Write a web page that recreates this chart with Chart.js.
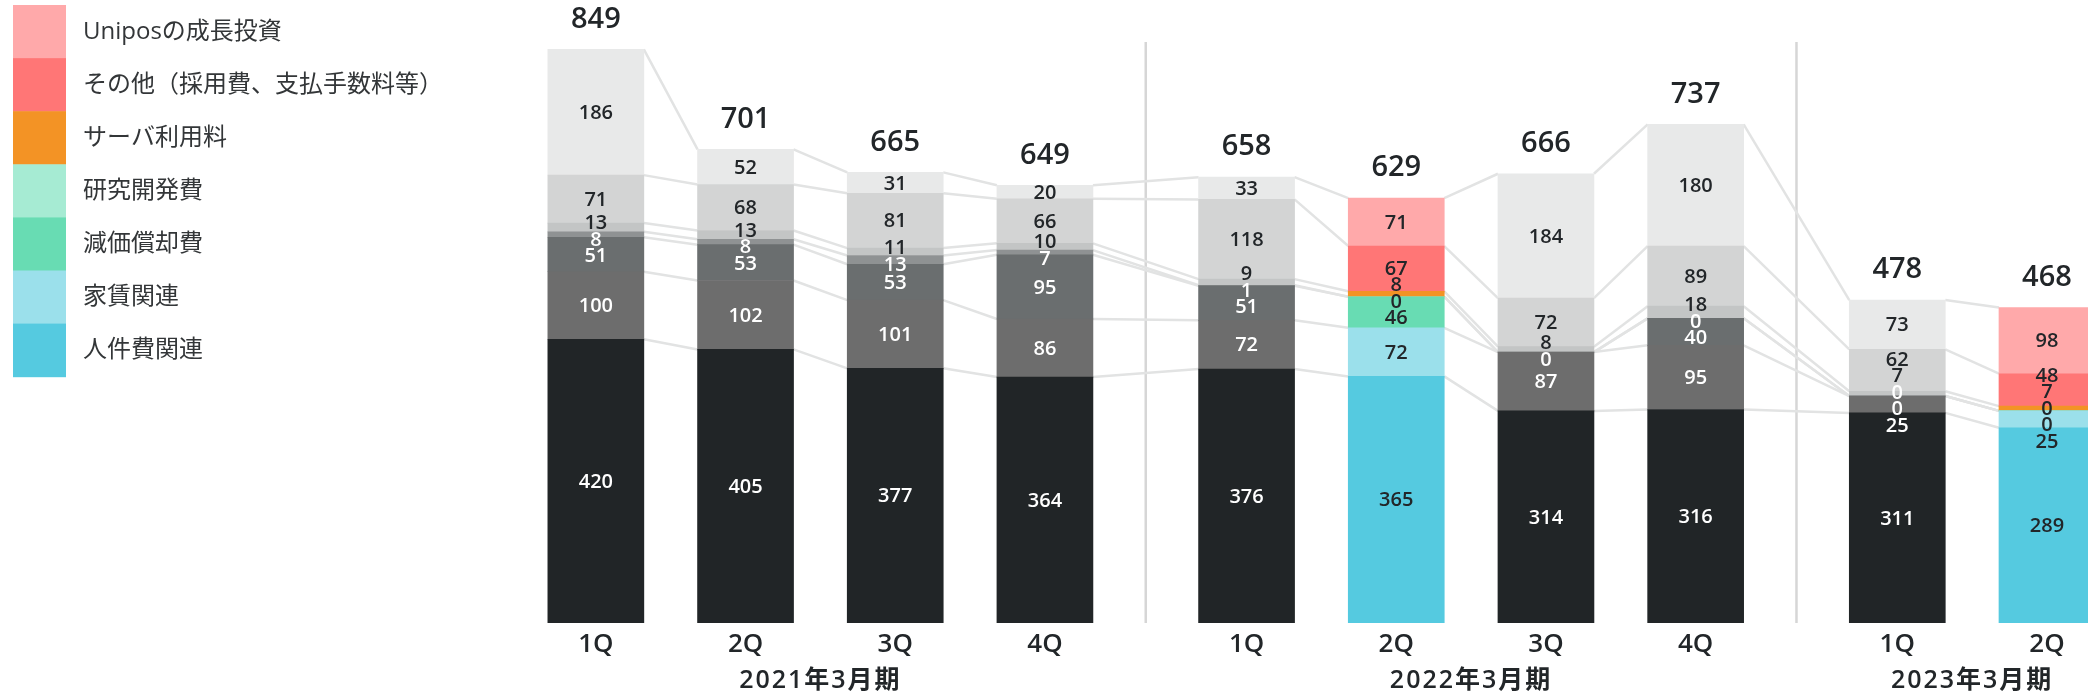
<!DOCTYPE html>
<html><head><meta charset="utf-8">
<script src="https://cdn.jsdelivr.net/npm/chart.js@4.4.1/dist/chart.umd.min.js"></script>
<style>html,body{margin:0;padding:0;background:#fff;overflow:hidden}canvas{display:block}</style>
</head><body>
<canvas id="c" width="2088" height="696"></canvas>
<script>
// ---- data ----
const quarters = ['1Q','2Q','3Q','4Q','1Q','2Q','3Q','4Q','1Q','2Q'];
const fiscalYears = ['2021年3月期','2022年3月期','2023年3月期'];
const quartersPerYear = [4,4,2];
const seriesNames = ['人件費関連','家賃関連','減価償却費','研究開発費','サーバ利用料','その他（採用費、支払手数料等）','Uniposの成長投資'];
const personnel    = [420,405,377,364,376,365,314,316,311,289];
const rent         = [100,102,101, 86, 72, 72, 87, 95, 25, 25];
const depreciation = [ 51, 53, 53, 95, 51, 46,null,40,  0,  0];
const research     = [  8,  8, 13,  7,  1,  0,  0,  0,  0,  0];
const server       = [ 13, 13, 11, 10,  9,  8,  8, 18,  7,  7];
const other        = [ 71, 68, 81, 66,118, 67, 72, 89, 62, 48];
const uniposGrowth = [186, 52, 31, 20, 33, 71,184,180, 73, 98];
const totals       = [849,701,665,649,658,629,666,737,478,468];

// ---- styling / layout ----
const seriesValues = [personnel, rent, depreciation, research, server, other, uniposGrowth];
const grayPalette  = ['#212527','#6d6d6d','#6a6e6f','#8f9293','#c3c5c5','#d3d4d4','#e8e9e9'];
const colorPalette = ['#55cae0','#9be0eb','#68dcb3','#a6ebd3','#f39325','#ff7676','#ffa9aa'];
const highlighted = [5, 9];
const GROUP_GAP = 0.347;
const FONT = "'Open Sans','Noto Sans CJK JP',sans-serif";

const xPos = [];
(function(){ let k = 0; quartersPerYear.forEach((n, gi) => { for (let j = 0; j < n; j++) { xPos.push(k + gi * GROUP_GAP); k++; } }); })();

const datasets = seriesValues.map((vals, s) => ({
  label: seriesNames[s],
  data: xPos.map((x, i) => ({x: x, y: vals[i]})),
  backgroundColor: xPos.map((_, i) => highlighted.includes(i) ? colorPalette[s] : grayPalette[s]),
  borderWidth: 0,
  barThickness: 96,
  stack: 'costs'
}));

function cumulative(i) {
  const c = [0]; let acc = 0;
  seriesValues.forEach(v => { acc += (v[i] == null ? 0 : v[i]); c.push(acc); });
  return c;
}

function resolveLabels(items, sp) {
  const groups = items.map(it => ({members: [it]}));
  const layout = gr => {
    const n = gr.members.length;
    const mean = gr.members.reduce((a, m) => a + m.desired, 0) / n;
    gr.members.forEach((m, k) => { m.y = mean + (k - (n - 1) / 2) * sp; });
  };
  groups.forEach(layout);
  let changed = true;
  while (changed) {
    changed = false;
    for (let i = 0; i < groups.length - 1; i++) {
      const a = groups[i], b = groups[i + 1];
      if (b.members[0].y - a.members[a.members.length - 1].y < sp - 0.01) {
        a.members = a.members.concat(b.members);
        groups.splice(i + 1, 1);
        layout(a); changed = true; break;
      }
    }
  }
}

const decorPlugin = {
  id: 'decor',
  beforeDatasetsDraw(chart) {
    const ctx = chart.ctx, xs = chart.scales.x, ys = chart.scales.y;
    const bw = chart.getDatasetMeta(0).data[0].width;
    ctx.save();
    ctx.strokeStyle = '#d6d6d6'; ctx.lineWidth = 2.5;
    let idx = 0;
    quartersPerYear.forEach((n, gi) => {
      idx += n;
      if (gi < quartersPerYear.length - 1) {
        const px = (xs.getPixelForValue(xPos[idx - 1]) + xs.getPixelForValue(xPos[idx])) / 2;
        ctx.beginPath(); ctx.moveTo(px, ys.getPixelForValue(860)); ctx.lineTo(px, ys.getPixelForValue(0)); ctx.stroke();
      }
    });
    ctx.strokeStyle = '#e2e3e3'; ctx.lineWidth = 2.5;
    for (let i = 0; i < xPos.length - 1; i++) {
      const c1 = cumulative(i), c2 = cumulative(i + 1);
      const xa = xs.getPixelForValue(xPos[i]) + bw / 2;
      const xb = xs.getPixelForValue(xPos[i + 1]) - bw / 2;
      for (let s = 1; s < c1.length; s++) {
        ctx.beginPath();
        ctx.moveTo(xa, ys.getPixelForValue(c1[s]));
        ctx.lineTo(xb, ys.getPixelForValue(c2[s]));
        ctx.stroke();
      }
    }
    ctx.restore();
  },
  afterDatasetsDraw(chart) {
    const ctx = chart.ctx, xs = chart.scales.x, ys = chart.scales.y, area = chart.chartArea;
    ctx.save();
    ctx.textAlign = 'center'; ctx.textBaseline = 'middle';
    xPos.forEach((xv, i) => {
      const c = cumulative(i);
      const px = xs.getPixelForValue(xv);
      const items = [];
      for (let s = seriesValues.length - 1; s >= 0; s--) {
        const v = seriesValues[s][i];
        if (v == null) continue;
        items.push({s: s, v: v, desired: (ys.getPixelForValue(c[s]) + ys.getPixelForValue(c[s + 1])) / 2});
      }
      resolveLabels(items, 16.5);
      ctx.font = '600 20px ' + FONT;
      items.forEach(it => {
        const light = !highlighted.includes(i) && it.s <= 3;
        ctx.fillStyle = light ? '#ffffff' : '#222629';
        ctx.fillText(String(it.v), px, it.y + 1);
      });
      ctx.font = '600 29px ' + FONT;
      ctx.fillStyle = '#222629';
      ctx.fillText(String(totals[i]), px, ys.getPixelForValue(c[c.length - 1]) - 30);
      ctx.font = '600 26px ' + FONT;
      ctx.fillText(quarters[i], px, area.bottom + 22);
    });
    ctx.font = '600 25px ' + FONT;
    ctx.letterSpacing = '2px';
    ctx.fillStyle = '#222629';
    let start = 0;
    quartersPerYear.forEach((n, gi) => {
      const mid = (xs.getPixelForValue(xPos[start]) + xs.getPixelForValue(xPos[start + n - 1])) / 2;
      ctx.fillText(fiscalYears[gi], mid, area.bottom + 58);
      start += n;
    });
    ctx.letterSpacing = '0px';
    ctx.textAlign = 'left';
    ctx.font = '400 24px ' + FONT;
    for (let r = 0; r < seriesNames.length; r++) {
      const s = seriesNames.length - 1 - r;
      const y0 = 5 + r * 53.1;
      ctx.fillStyle = colorPalette[s];
      ctx.fillRect(13, y0, 53, 53.6);
      ctx.fillStyle = '#333638';
      ctx.fillText(seriesNames[s], 83, y0 + 27);
    }
    ctx.restore();
  }
};

new Chart(document.getElementById('c'), {
  type: 'bar',
  data: { datasets: datasets },
  options: {
    responsive: false,
    animation: false,
    devicePixelRatio: 1,
    layout: { padding: { left: 521, right: 0, top: 15, bottom: 73 } },
    scales: {
      x: { type: 'linear', min: -0.5, max: 9.968, offset: false, stacked: true, display: false },
      y: { min: 0, max: 900, stacked: true, display: false }
    },
    plugins: { legend: { display: false }, tooltip: { enabled: false } }
  },
  plugins: [decorPlugin]
});
</script></body></html>
